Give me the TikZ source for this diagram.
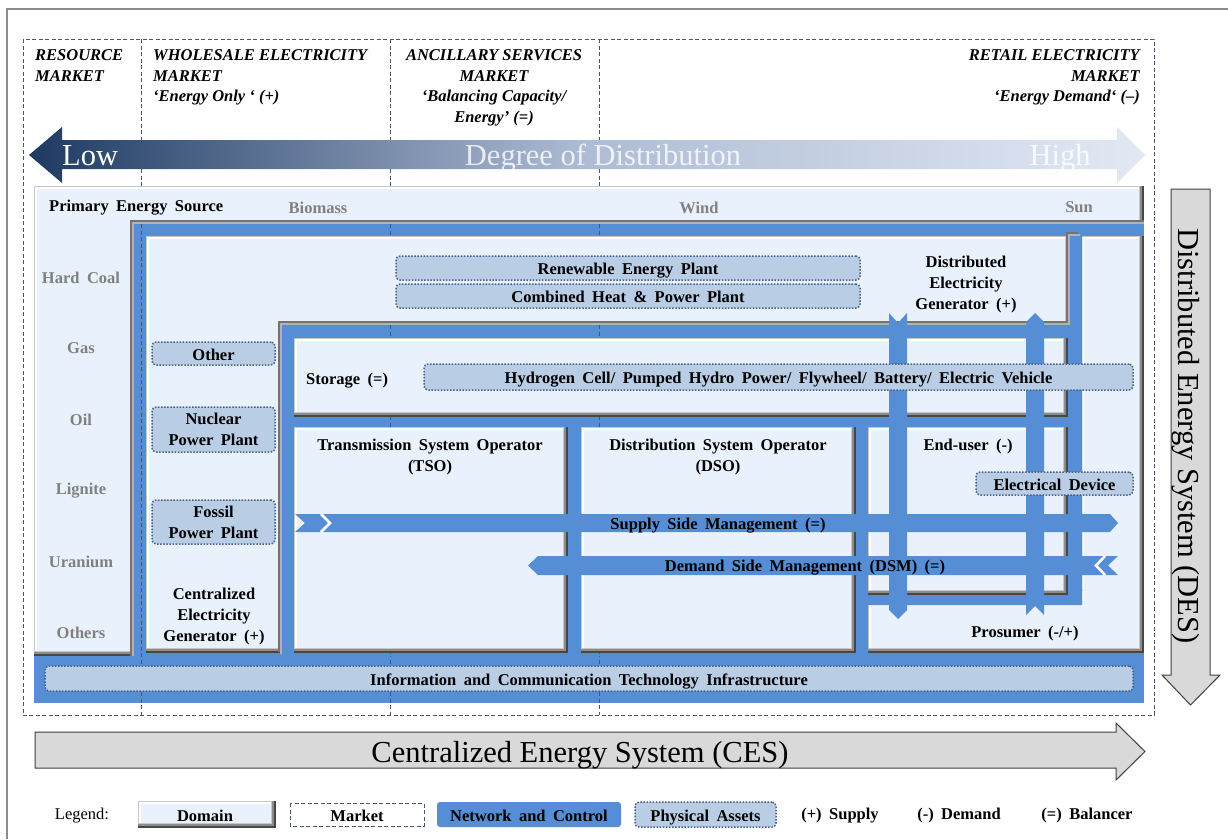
\documentclass[tikz,border=0pt]{standalone}
\usepackage{fontspec}
\setmainfont{Liberation Serif}[WordSpace=1.8]
\newfontfamily\plainfont{Liberation Serif}
\definecolor{netblue}{RGB}{85,142,213}
\definecolor{domfill}{RGB}{233,242,252}
\definecolor{physfill}{RGB}{185,205,229}
\definecolor{physline}{RGB}{70,95,135}
\definecolor{mktline}{RGB}{70,85,120}
\definecolor{srcgray}{RGB}{128,128,128}
\definecolor{framegray}{RGB}{140,140,140}
\definecolor{cesfill}{RGB}{217,217,217}
\definecolor{cesline}{RGB}{64,64,64}
\definecolor{degL}{RGB}{30,58,98}
\definecolor{degM}{RGB}{174,188,212}
\definecolor{degR}{RGB}{226,233,244}
\newcommand\dombox[4]{%
  \fill[black!72] (#1,#2) rectangle (#3,#4);
  \fill[black!45] (#1,#2) rectangle (#3-2,#4-2);
  \fill[black!22] (#1,#2) rectangle (#3-4,#4-4);
  \fill[white] (#1+0.6,#2+0.6) rectangle (#3-5,#4-5);
  \fill[domfill] (#1+2.5,#2+2.5) rectangle (#3-5.5,#4-5.5);
}
\begin{document}
\begin{tikzpicture}[x=1pt,y=-1pt,
  lbl/.style={font=\fontsize{16.5}{21}\selectfont\bfseries, align=center, inner sep=0, yshift=-1.5pt},
  src/.style={lbl, text=srcgray},
  phys/.style={draw=physline, fill=physfill, dash pattern=on 1.5pt off 1.6pt, line width=1.5,
     rounded corners=4, inner sep=0, font=\fontsize{16.5}{21}\selectfont\bfseries, align=center},
  physone/.style={phys, text height=14pt, text depth=0.5pt},
  mkt/.style={font=\plainfont\fontsize{16.5}{20.7}\selectfont\bfseries\itshape, inner sep=0},
  big/.style={font=\plainfont\fontsize{30.5}{34}\selectfont, inner sep=0},
  mktdiv/.style={draw=mktline, line width=0.8, dash pattern=on 4pt off 2.5pt},
  netarrow/.style={fill=netblue},
  chev/.style={draw=white, line width=2.6}
]
\useasboundingbox (0,0) rectangle (1228,839);
\fill[white] (0,0) rectangle (1228,839);
\draw[framegray, line width=1.2] (7,839) -- (7,9) -- (1228,9);

% market frame and dividers
\draw[mktdiv] (23,39) rectangle (1154,715);
\foreach \x in {141,390,599} \draw[mktdiv] (\x,39) -- (\x,186);

% market headers (base anchor = baseline of the last line)
\node[mkt, anchor=base west, align=left] (mres) at (35,81.2) {RESOURCE\\MARKET};
\node[mkt, anchor=base west, align=left] (mwhole) at (153,101.9) {WHOLESALE ELECTRICITY\\MARKET\\‘Energy Only ‘ (+)};
\node[mkt, anchor=base, align=center] (manc) at (494,122.6) {ANCILLARY SERVICES\\MARKET\\‘Balancing Capacity/\\Energy’ (=)};
\node[mkt, anchor=base east, align=right] (mret) at (1140,101.9) {RETAIL ELECTRICITY\\MARKET\\‘Energy Demand‘ (–)};

% degree of distribution arrow
\shade[left color=degL, right color=degR, middle color=degM]
  (29,155) -- (62,127) -- (62,140) -- (1117,140) -- (1117,127) -- (1145,155)
  -- (1117,183) -- (1117,169) -- (62,169) -- (62,183) -- cycle;
\node[big, text=white, anchor=base west] (low) at (62,165) {Low};
\node[big, text=white, text opacity=0.8, anchor=base] (deg) at (603,165) {Degree of Distribution};
\node[big, text=white, text opacity=0.85, anchor=base] (high) at (1060,165) {High};

% primary energy source domain
\dombox{34}{186}{1144}{656}
% outer network
\fill[black!55] (130,220) rectangle (1144,656);
\fill[black!30] (132,222) rectangle (1144,656);
\fill[netblue] (134,224) rectangle (1144,656);
\fill[netblue] (34,656) rectangle (1144,703);
\foreach \x in {141,390,599} \draw[mktdiv] (\x,224) -- (\x,715);

% prosumer and centralized generator domains
\dombox{868}{236}{1144}{653}
\dombox{146}{236}{1070}{653}
\dombox{868}{590}{1144}{653}
\fill[domfill] (1084,588) rectangle (1138.5,596);
\draw[white, line width=1] (1083.5,237) -- (1083.5,606);

% inner network
\fill[black!55] (278,321) -- (1066,321) -- (1066,232) -- (1078,232) -- (1078,601) -- (864,601) -- (864,652) -- (278,652) -- cycle;
\fill[black!30] (280,323) -- (1068,323) -- (1068,234) -- (1080,234) -- (1080,603) -- (866,603) -- (866,654) -- (280,654) -- cycle;
\fill[netblue] (282,325) -- (1070,325) -- (1070,236) -- (1082,236) -- (1082,605) -- (868,605) -- (868,656) -- (282,656) -- cycle;
\foreach \x in {390,599} \draw[mktdiv] (\x,325) -- (\x,656);

% storage, TSO, DSO, end-user domains
\dombox{294}{338}{1068}{417}
\dombox{294}{427}{568}{653}
\dombox{581}{427}{856}{653}
\dombox{868}{427}{1068}{595}

% vertical flows
\fill[netarrow] (889,313) -- (898,323) -- (907,313) -- (907,610) -- (898,619) -- (889,610) -- cycle;
\fill[netarrow] (1035,313) -- (1044,322) -- (1044,615) -- (1035,606) -- (1026,615) -- (1026,322) -- cycle;

% supply side management arrow
\fill[netarrow] (295,514) -- (1110,514) -- (1118,523) -- (1110,532) -- (295,532) -- (305,523) -- cycle;
\draw[chev] (321,514) -- (330,523) -- (321,532);
% demand side management arrow
\fill[netarrow] (528,565.5) -- (538,556) -- (1118,556) -- (1108,565.5) -- (1118,575) -- (538,575) -- cycle;
\draw[chev] (1105,556) -- (1096,565.5) -- (1105,575);

% physical assets
\node[physone, minimum width=464, minimum height=24] (rep) at (628,268) {Renewable Energy Plant};
\node[physone, minimum width=464, minimum height=24] (chp) at (628,296) {Combined Heat \& Power Plant};
\node[physone, minimum width=123, minimum height=23] (other) at (213.5,353.5) {Other};
\node[phys, minimum width=123, minimum height=45] (nuc) at (213.5,429.5) {Nuclear\\Power Plant};
\node[phys, minimum width=123, minimum height=44] (fos) at (213.5,522) {Fossil\\Power Plant};
\node[physone, minimum width=709, minimum height=26] (hyd) at (778.5,377) {Hydrogen Cell/ Pumped Hydro Power/ Flywheel/ Battery/ Electric Vehicle};
\node[physone, minimum width=157, minimum height=23] (dev) at (1054.5,483.5) {Electrical Device};
\node[physone, minimum width=1088, minimum height=25] (ict) at (589,678.5) {Information and Communication Technology Infrastructure};

% labels
\node[lbl, anchor=west] (pes) at (49,206) {Primary Energy Source};
\node[src] (bio) at (318,206) {Biomass};
\node[src] (wind) at (699,206) {Wind};
\node[src] (sun) at (1079,206) {Sun};
\node[src] (coal) at (81,276) {Hard Coal};
\node[src] (gas) at (81,347) {Gas};
\node[src] (oil) at (81,418) {Oil};
\node[src] (lig) at (81,489) {Lignite};
\node[src] (ura) at (81,560) {Uranium};
\node[src] (oth) at (81,631) {Others};
\node[lbl] (deg2) at (966,283) {Distributed\\Electricity\\Generator (+)};
\node[lbl] (ceg) at (214,615) {Centralized\\Electricity\\Generator (+)};
\node[lbl, anchor=west] (sto) at (306,379) {Storage (=)};
\node[lbl] (tso) at (430,455.5) {Transmission System Operator\\(TSO)};
\node[lbl] (dso) at (718,455.5) {Distribution System Operator\\(DSO)};
\node[lbl] (eu) at (968,445) {End-user (-)};
\node[lbl] (pros) at (1025,632) {Prosumer (-/+)};
\node[lbl] (ssm) at (718,524) {Supply Side Management (=)};
\node[lbl] (dsm) at (805,566) {Demand Side Management (DSM) (=)};

% CES arrow
\draw[cesline, fill=cesfill, line width=1] (35,732) -- (1116,732) -- (1116,723) -- (1145,751.5) -- (1116,780) -- (1116,768) -- (35,768) -- cycle;
\node[big, anchor=base] (ces) at (580,762) {Centralized Energy System (CES)};
% DES arrow
\draw[cesline, fill=cesfill, line width=1] (1171,189) -- (1210,189) -- (1210,675) -- (1220,675) -- (1190.5,705) -- (1162,675) -- (1171,675) -- cycle;
\node[big, anchor=base, rotate=-90] (des) at (1178,436) {Distributed Energy System (DES)};

% legend
\node[font=\fontsize{16.5}{21}\selectfont, inner sep=0, yshift=-1.5pt] (leg) at (82,814) {Legend:};
\dombox{138}{801}{276}{828}
\node[lbl] (ldom) at (205,814) {Domain};
\draw[mktdiv] (290,803) rectangle (424,826);
\node[lbl] (lmkt) at (357,814) {Market};
\fill[netblue, rounded corners=3] (437,802) rectangle (621,827);
\node[lbl] (lnet) at (529,814) {Network and Control};
\node[physone, minimum width=141, minimum height=25] (lphys) at (705.5,814.5) {Physical Assets};
\node[lbl] (lsup) at (840,814) {(+) Supply};
\node[lbl] (ldem) at (959,814) {(-) Demand};
\node[lbl] (lbal) at (1087,814) {(=) Balancer};
\end{tikzpicture}
\end{document}
